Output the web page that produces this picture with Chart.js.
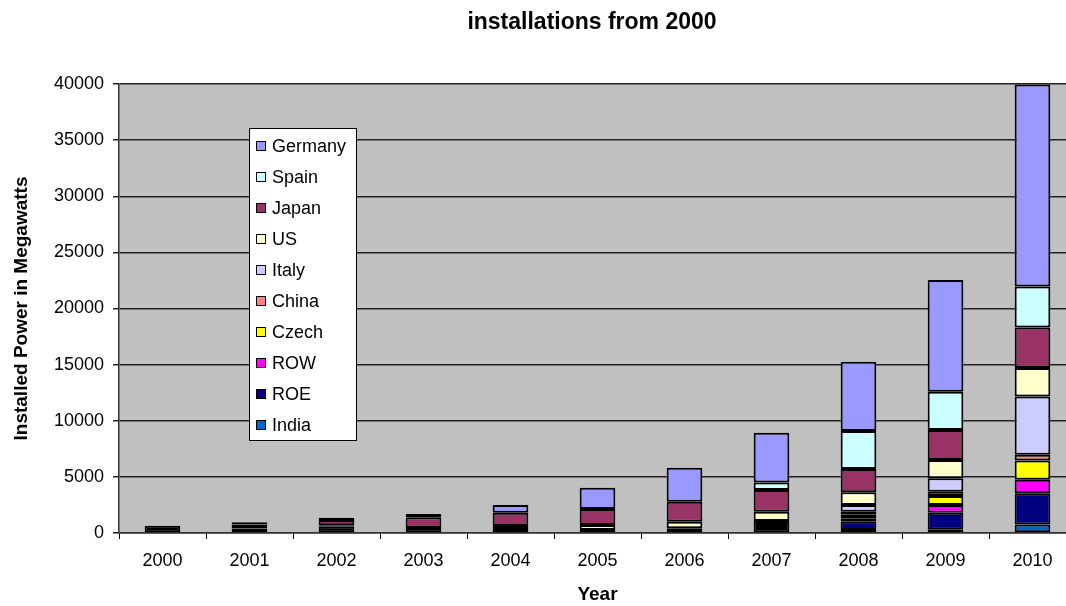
<!DOCTYPE html>
<html>
<head>
<meta charset="utf-8">
<script src="https://cdn.jsdelivr.net/npm/chart.js@4.4.0/dist/chart.umd.min.js"></script>
<style>
html, body { margin: 0; padding: 0; background: #fff; overflow: hidden; }
</style>
</head>
<body>
<canvas id="pvChart" width="1090" height="606"></canvas>
<script>
// installed PV capacity by country, MW
const years   = ['2000', '2001', '2002', '2003', '2004', '2005', '2006', '2007', '2008', '2009', '2010'];
const other   = [650, 400, 550, 450, 270, 270, 420, 1070, 0, 0, 0];
const india   = [0, 0, 0, 0, 0, 0, 0, 0, 270, 330, 750];
const roe     = [0, 0, 0, 0, 0, 0, 0, 0, 740, 1480, 2800];
const row     = [0, 0, 0, 0, 0, 0, 0, 0, 300, 680, 1190];
const czech   = [0, 0, 0, 0, 0, 0, 0, 0, 360, 800, 1720];
const china   = [0, 0, 0, 0, 0, 0, 0, 0, 230, 390, 510];
const italy   = [0, 0, 0, 0, 0, 0, 0, 0, 590, 1190, 5190];
const us      = [0, 0, 150, 0, 350, 440, 590, 830, 1130, 1630, 2530];
const japan   = [0, 350, 450, 950, 1190, 1430, 1780, 1930, 2080, 2670, 3610];
const spain   = [0, 0, 0, 0, 0, 0, 0, 680, 3380, 3410, 3650];
const germany = [0, 200, 200, 290, 680, 1890, 3030, 4420, 6170, 9950, 18000];

const FONT = '"Liberation Sans", Arial, sans-serif';

// bottom of the stack first
const series = [
    { label: 'Other',   data: other,   color: '#000000', inLegend: false },
    { label: 'India',   data: india,   color: '#0066CC' },
    { label: 'ROE',     data: roe,     color: '#000080' },
    { label: 'ROW',     data: row,     color: '#FF00FF' },
    { label: 'Czech',   data: czech,   color: '#FFFF00' },
    { label: 'China',   data: china,   color: '#FF8080' },
    { label: 'Italy',   data: italy,   color: '#CCCCFF' },
    { label: 'US',      data: us,      color: '#FFFFCC' },
    { label: 'Japan',   data: japan,   color: '#993366' },
    { label: 'Spain',   data: spain,   color: '#CCFFFF' },
    { label: 'Germany', data: germany, color: '#9999FF' }
];

const plotBackground = {
    id: 'plotBackground',
    beforeDraw(chart) {
        const { ctx, chartArea: a } = chart;
        ctx.save();
        ctx.fillStyle = '#C0C0C0';
        ctx.fillRect(a.left, a.top, a.right - a.left, a.bottom - a.top);
        ctx.restore();
    }
};

// title and boxed legend sitting inside the plot
const overlay = {
    id: 'overlay',
    afterDraw(chart) {
        const ctx = chart.ctx;
        ctx.save();
        ctx.fillStyle = '#000';
        ctx.font = 'bold 23px ' + FONT;
        ctx.textAlign = 'center';
        ctx.textBaseline = 'middle';
        ctx.fillText('installations from 2000', 592, 23);

        const items = chart.data.datasets.filter(d => d.inLegend !== false).reverse();
        const bx = 249, by = 128, bw = 107, bh = 312;
        ctx.fillStyle = '#fff';
        ctx.fillRect(bx, by, bw, bh);
        ctx.strokeStyle = '#000';
        ctx.lineWidth = 1;
        ctx.strokeRect(bx + 0.5, by + 0.5, bw, bh);

        ctx.font = '18px ' + FONT;
        ctx.textAlign = 'left';
        items.forEach((d, i) => {
            const y = 146 + i * 31;
            ctx.fillStyle = d.backgroundColor;
            ctx.fillRect(256, y - 5, 10, 10);
            ctx.strokeStyle = '#000';
            ctx.strokeRect(256.5, y - 4.5, 9, 9);
            ctx.fillStyle = '#000';
            ctx.fillText(d.label, 272, y + 1);
        });
        ctx.restore();
    }
};

const ctx = document.getElementById('pvChart').getContext('2d');
const pvChart = new Chart(ctx, {
    type: 'bar',
    data: {
        labels: years,
        datasets: series.map(s => ({
            label: s.label,
            data: s.data,
            inLegend: s.inLegend,
            backgroundColor: s.color,
            borderColor: '#000',
            borderWidth: 2,
            borderSkipped: false,
            categoryPercentage: 1,
            barPercentage: 0.41
        }))
    },
    options: {
        responsive: false,
        animation: false,
        devicePixelRatio: 1,
        layout: { padding: { top: 84, right: 14, left: 0, bottom: 0 } },
        plugins: {
            legend: { display: false },
            title: { display: false },
            tooltip: { enabled: false }
        },
        scales: {
            x: {
                stacked: true,
                grid: { offset: true, drawOnChartArea: false, color: '#000', tickLength: 6, lineWidth: 1 },
                border: { color: '#333', width: 1.5 },
                ticks: { color: '#000', font: { family: FONT, size: 18 }, padding: 11 },
                title: { display: true, text: 'Year', color: '#000', font: { family: FONT, size: 19, weight: 'bold' }, padding: { top: 0, bottom: 0 } },
                afterFit(scale) { scale.height = 73; }
            },
            y: {
                stacked: true,
                min: 0,
                max: 40000,
                grid: { color: '#222', lineWidth: 1.5, tickLength: 6 },
                border: { color: '#333', width: 1.5 },
                ticks: { stepSize: 5000, color: '#000', font: { family: FONT, size: 18 }, padding: 9, callback: v => String(v) },
                title: { display: true, text: 'Installed Power in Megawatts', color: '#000', font: { family: FONT, size: 19, weight: 'bold' }, padding: { top: 10, bottom: 0 } },
                afterFit(scale) { scale.width = 119; }
            }
        }
    },
    plugins: [plotBackground, overlay]
});
</script>
</body>
</html>
